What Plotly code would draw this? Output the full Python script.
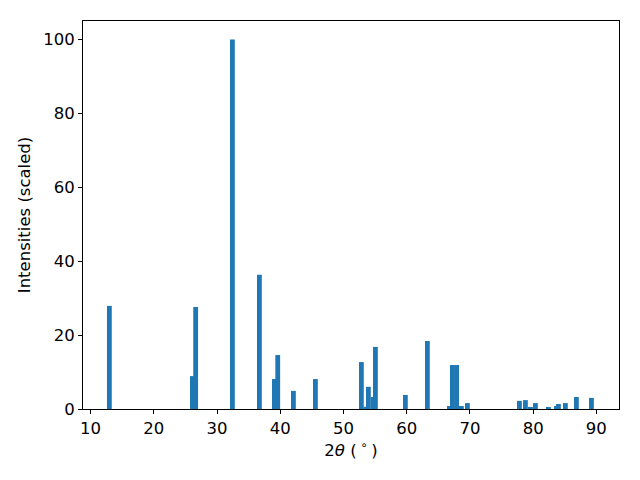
import plotly.graph_objects as go

# Peak positions (2theta, degrees) and scaled intensities
two_theta = [12.97, 26.10, 26.62, 32.43, 36.70, 39.07, 39.60, 42.08, 45.56,
             52.83, 53.58, 53.94, 54.69, 55.05, 59.79, 63.27, 66.75, 67.23,
             67.90, 68.65, 69.60, 77.83, 78.78, 79.57, 80.36, 82.41, 83.68,
             84.00, 85.10, 86.84, 89.22]
intensity = [27.9, 8.9, 27.6, 100.0, 36.3, 8.1, 14.6, 4.9, 8.1,
             12.7, 0.6, 6.0, 3.25, 16.8, 3.8, 18.4, 0.8, 11.9,
             11.9, 0.8, 1.6, 2.2, 2.4, 0.55, 1.6, 0.55, 0.8,
             1.35, 1.6, 3.25, 3.0]
bar_width = 0.76

x_ticks = [10, 20, 30, 40, 50, 60, 70, 80, 90]
y_ticks = [0, 20, 40, 60, 80, 100]

FS = 16.5

fig = go.Figure()
fig.add_trace(go.Bar(
    x=two_theta, y=intensity, width=bar_width,
    marker=dict(color="#1f77b4", line=dict(width=0)),
    showlegend=False,
))

axis_common = dict(
    showline=True, mirror=True, linecolor="black", linewidth=1,
    ticks="outside", ticklen=4, tickwidth=1, tickcolor="black",
    showgrid=False, zeroline=False, automargin=False,
    tickfont=dict(family="DejaVu Sans", size=FS, color="black"),
)

fig.update_layout(
    width=640, height=480,
    margin=dict(l=75, r=29, t=13, b=79),
    paper_bgcolor="white", plot_bgcolor="white",
    font=dict(family="DejaVu Sans", size=FS, color="black"),
    xaxis=dict(range=[8.8, 93.58], tickvals=x_ticks,
               title=dict(text="2<i>θ</i> (<sup> ∘ </sup>)", standoff=6,
                          font=dict(family="DejaVu Sans", size=FS)),
               **axis_common),
    yaxis=dict(range=[0, 105], tickvals=y_ticks,
               title=dict(text="Intensities (scaled)", standoff=8,
                          font=dict(family="DejaVu Sans", size=FS)),
               **axis_common),
)

fig.write_html("out.html")
